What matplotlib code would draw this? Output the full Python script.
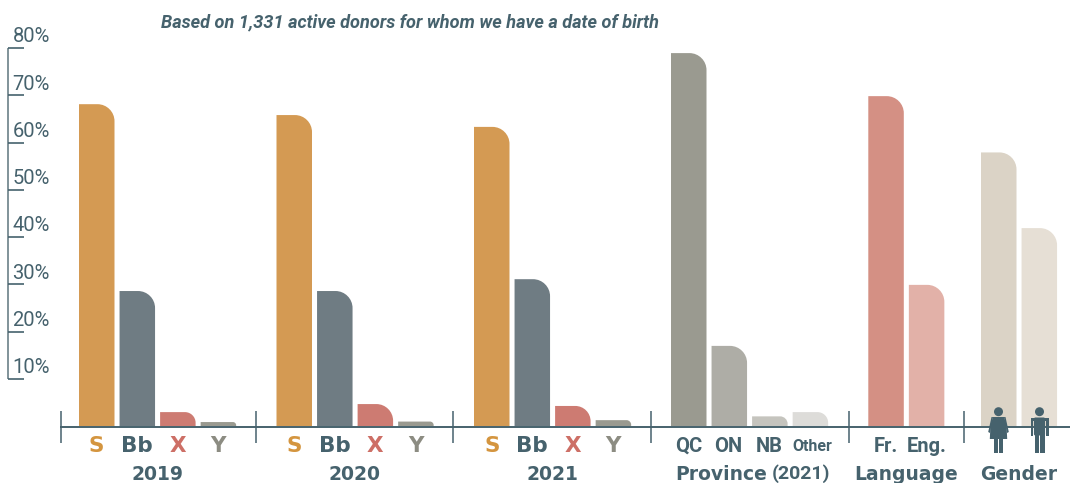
import matplotlib
matplotlib.use("Agg")
import matplotlib.pyplot as plt
from matplotlib.path import Path
from matplotlib.patches import PathPatch, Circle, Polygon, Rectangle, FancyBboxPatch

# ---- data ----
years = ["2019", "2020", "2021"]
year_cats = ["S", "Bb", "X", "Y"]
v2019 = [68.1, 28.6, 3.0, 0.9]
v2020 = [65.8, 28.6, 4.7, 1.0]
v2021 = [63.3, 31.1, 4.3, 1.3]
prov_cats = ["QC", "ON", "NB", "Other"]
prov_vals = [78.9, 17.0, 2.1, 3.0]
lang_cats = ["Fr.", "Eng."]
lang_vals = [69.8, 29.9]
gender_vals = [57.9, 41.9]
yticks = [10, 20, 30, 40, 50, 60, 70, 80]
subtitle = "Based on 1,331 active donors for whom we have a date of birth"

# ---- styles ----
INK = "#46626d"
C_S, C_BB, C_X, C_Y = "#d49a53", "#6f7c83", "#cd7b72", "#9a9a90"
year_cols = [C_S, C_BB, C_X, C_Y]
year_lab_cols = ["#d4953f", INK, "#cd6f66", "#8c8c82"]
prov_cols = ["#9a9a90", "#aeada6", "#c5c4be", "#dddcd9"]
lang_cols = ["#d49084", "#e2b1a8"]
gender_cols = ["#dbd3c6", "#e6dfd5"]
NARROW = ["Roboto", "DejaVu Sans"]
WIDE = ["DejaVu Sans"]

W, H = 1070, 483
fig = plt.figure(figsize=(W / 100, H / 100), dpi=100, facecolor="white")
Y0, PX = 426.3, 4.73   # baseline pixel, pixels per percentage point

ax = fig.add_axes([0, 0, 1, 1])
ax.set_xlim(0, W)
ax.set_ylim(-(H - Y0) / PX, Y0 / PX)
ax.axis("off")
px = fig.add_axes([0, 0, 1, 1], facecolor="none")
px.set_xlim(0, W)
px.set_ylim(H, 0)
px.axis("off")

BW, PITCH, RAD = 35.5, 40.55, 17.0


def draw_group(start, vals, cols):
    for i, (v, c) in enumerate(zip(vals, cols)):
        x0 = start + i * PITCH
        x1 = x0 + BW
        rx = min(RAD, v * PX * 0.75)
        ry = rx / PX
        k = 0.55
        verts = [(x0, 0), (x0, v), (x1 - rx, v),
                 (x1 - rx * (1 - k), v), (x1, v - ry * (1 - k)), (x1, v - ry),
                 (x1, 0), (x0, 0)]
        codes = [Path.MOVETO, Path.LINETO, Path.LINETO,
                 Path.CURVE4, Path.CURVE4, Path.CURVE4,
                 Path.LINETO, Path.CLOSEPOLY]
        ax.add_patch(PathPatch(Path(verts, codes), fc=c, ec="none", zorder=2))


starts = [79, 276.5, 474, 671, 868.3, 981]
draw_group(starts[0], v2019, year_cols)
draw_group(starts[1], v2020, year_cols)
draw_group(starts[2], v2021, year_cols)
draw_group(starts[3], prov_vals, prov_cols)
draw_group(starts[4], lang_vals, lang_cols)
draw_group(starts[5], gender_vals, gender_cols)

# y axis
ax.vlines(8, 10, 80, color="#6b8088", lw=1.2, zorder=3)
ax.hlines(yticks, 8, 24, color=INK, lw=1.2, zorder=3)
for t in yticks:
    ax.text(12.5, t + 0.35, f"{t}%", fontsize=14.5, family=NARROW, color=INK,
            va="bottom", ha="left")

# baseline and dividers
px.hlines(426.5, 60, W, color=INK, lw=1.4, zorder=5)
px.vlines([60.5, 255.5, 453, 651, 849, 963.5], 411, 443, color=INK, lw=1.1, zorder=5)

# subtitle
px.text(161, 22, subtitle, fontsize=13.1, family=NARROW, style="italic",
        weight="bold", color=INK, va="center", ha="left")

# category labels
LAB_Y, GRP_Y = 445.5, 474
for s, y in zip(starts[:3], years):
    for i, (c, col) in enumerate(zip(year_cats, year_lab_cols)):
        px.text(s + BW / 2 + i * PITCH, LAB_Y, c, fontsize=15.5, family=WIDE, weight="bold",
                color=col, ha="center", va="center")
    px.text(s + 78.5, GRP_Y, y, fontsize=13.5, family=WIDE, weight="bold", color=INK,
            ha="center", va="center")
for x, c in zip([689, 728, 769, 812], prov_cats):
    px.text(x, LAB_Y + 1, c, fontsize=14.5 if c != "Other" else 11.5,
            family=NARROW, weight="bold", color=INK, ha="center", va="center")
for x, c in zip([886, 926.5], lang_cats):
    px.text(x, LAB_Y + 1, c, fontsize=14.5, family=NARROW, weight="bold", color=INK,
            ha="center", va="center")
px.text(767, GRP_Y, "Province", fontsize=13.5, family=WIDE, weight="bold", color=INK,
        ha="right", va="center")
px.text(772, GRP_Y, "(2021)", fontsize=14, family=NARROW, weight="bold", color=INK,
        ha="left", va="center")
px.text(906.5, GRP_Y, "Language", fontsize=13.5, family=WIDE, weight="bold", color=INK,
        ha="center", va="center")
px.text(1019, GRP_Y, "Gender", fontsize=13.5, family=WIDE, weight="bold", color=INK,
        ha="center", va="center")


# gender icons
def woman(cx):
    px.add_patch(Circle((cx, 411.7), 4.5, fc=INK, ec="none", zorder=6))
    px.add_patch(Polygon([(cx - 5.5, 417), (cx + 5.5, 417), (cx + 8, 425), (cx + 8.7, 439), (cx - 8.7, 439), (cx - 8, 425)],
                         closed=True, fc=INK, ec="none", zorder=6))
    px.add_patch(Polygon([(cx - 5.5, 417), (cx - 7, 417), (cx - 10.3, 432), (cx - 8.5, 433)],
                         closed=True, fc=INK, ec="none", zorder=6))
    px.add_patch(Polygon([(cx + 5.5, 417), (cx + 7, 417), (cx + 10.3, 432), (cx + 8.5, 433)],
                         closed=True, fc=INK, ec="none", zorder=6))
    px.add_patch(Rectangle((cx - 4.4, 439), 3.6, 14, fc=INK, ec="none", zorder=6))
    px.add_patch(Rectangle((cx + 0.8, 439), 3.6, 14, fc=INK, ec="none", zorder=6))


def man(cx):
    px.add_patch(Circle((cx, 411.7), 4.5, fc=INK, ec="none", zorder=6))
    px.add_patch(FancyBboxPatch((cx - 5.6, 417.5), 11.2, 18, boxstyle="round,pad=0,rounding_size=1.5",
                                fc=INK, ec="none", zorder=6))
    px.add_patch(Rectangle((cx - 9, 418.5), 2.8, 17, fc=INK, ec="none", zorder=6))
    px.add_patch(Rectangle((cx + 6.2, 418.5), 2.8, 17, fc=INK, ec="none", zorder=6))
    px.add_patch(Rectangle((cx - 9, 417.5), 18, 3, fc=INK, ec="none", zorder=6))
    px.add_patch(Rectangle((cx - 5, 434), 4.2, 19, fc=INK, ec="none", zorder=6))
    px.add_patch(Rectangle((cx + 0.8, 434), 4.2, 19, fc=INK, ec="none", zorder=6))


woman(998.5)
man(1039.5)

fig.savefig("out.png", dpi=100, facecolor="white")
